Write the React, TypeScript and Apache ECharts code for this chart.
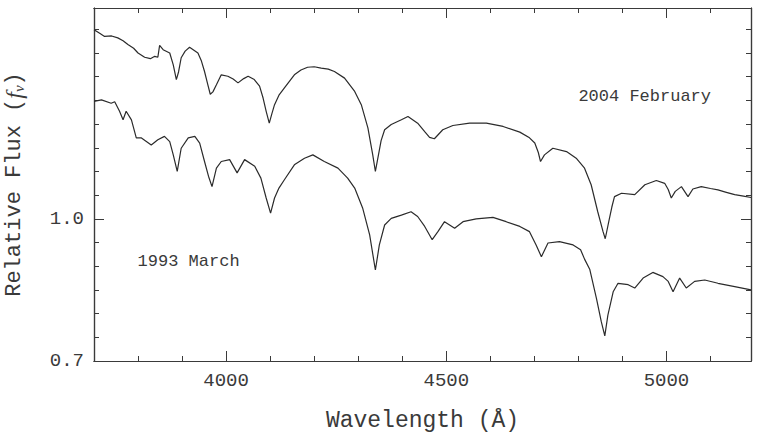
import React, { useEffect, useRef } from "react";
import * as echarts from "echarts";

// 2004 February spectrum (upper trace)
const wl2004 = [3700, 3712, 3724, 3740, 3754, 3766, 3777, 3790, 3800, 3815, 3828, 3838, 3845, 3849, 3857, 3872, 3880, 3887, 3892, 3898, 3907, 3917, 3936, 3944, 3951, 3958, 3964, 3970, 3978, 3989, 4004, 4016, 4027, 4040, 4050, 4064, 4076, 4084, 4091, 4098, 4104, 4110, 4120, 4132, 4155, 4170, 4185, 4200, 4216, 4232, 4246, 4269, 4292, 4307, 4322, 4333, 4339, 4346, 4352, 4360, 4375, 4398, 4413, 4435, 4451, 4462, 4473, 4482, 4492, 4515, 4553, 4591, 4629, 4667, 4689, 4701, 4709, 4714, 4723, 4742, 4773, 4795, 4814, 4829, 4844, 4856, 4861, 4869, 4876, 4882, 4898, 4928, 4951, 4977, 4996, 5004, 5011, 5020, 5034, 5049, 5060, 5079, 5100, 5117, 5136, 5155, 5175, 5192];
const flux2004 = [1.399, 1.392, 1.385, 1.386, 1.382, 1.376, 1.368, 1.36, 1.35, 1.341, 1.338, 1.343, 1.341, 1.366, 1.357, 1.35, 1.325, 1.294, 1.31, 1.34, 1.354, 1.362, 1.35, 1.333, 1.311, 1.285, 1.263, 1.268, 1.283, 1.304, 1.301, 1.295, 1.287, 1.296, 1.301, 1.294, 1.28, 1.255, 1.227, 1.202, 1.222, 1.241, 1.261, 1.276, 1.304, 1.314, 1.32, 1.321, 1.318, 1.316, 1.311, 1.297, 1.269, 1.241, 1.192, 1.135, 1.1, 1.135, 1.165, 1.188, 1.199, 1.209, 1.216, 1.202, 1.184, 1.172, 1.169, 1.178, 1.188, 1.197, 1.202, 1.202, 1.195, 1.183, 1.171, 1.16, 1.14, 1.121, 1.135, 1.149, 1.142, 1.128, 1.107, 1.072, 1.015, 0.973, 0.958, 0.994, 1.025, 1.047, 1.054, 1.051, 1.072, 1.081, 1.075, 1.062, 1.044, 1.058, 1.068, 1.047, 1.063, 1.068, 1.064, 1.061, 1.056, 1.051, 1.048, 1.045];

// 1993 March spectrum (lower trace)
const wl1993 = [3700, 3717, 3739, 3747, 3758, 3766, 3773, 3785, 3796, 3807, 3830, 3845, 3860, 3872, 3880, 3889, 3898, 3914, 3929, 3940, 3951, 3960, 3968, 3978, 3989, 4008, 4025, 4042, 4065, 4079, 4091, 4101, 4110, 4120, 4132, 4155, 4178, 4197, 4223, 4254, 4276, 4292, 4310, 4326, 4339, 4348, 4360, 4375, 4398, 4420, 4435, 4451, 4468, 4481, 4496, 4519, 4538, 4568, 4606, 4636, 4667, 4689, 4704, 4716, 4731, 4757, 4788, 4805, 4814, 4826, 4841, 4852, 4860, 4867, 4879, 4890, 4913, 4928, 4947, 4969, 4992, 5004, 5015, 5030, 5045, 5064, 5087, 5117, 5155, 5192];
const flux1993 = [1.248, 1.251, 1.244, 1.247, 1.227, 1.209, 1.227, 1.209, 1.171, 1.171, 1.156, 1.167, 1.174, 1.163, 1.135, 1.1, 1.149, 1.171, 1.174, 1.16, 1.121, 1.09, 1.068, 1.107, 1.121, 1.125, 1.097, 1.125, 1.111, 1.086, 1.044, 1.012, 1.044, 1.065, 1.082, 1.114, 1.128, 1.135, 1.121, 1.107, 1.086, 1.065, 1.023, 0.966, 0.892, 0.945, 0.987, 1.001, 1.008, 1.015, 1.005, 0.984, 0.956, 0.973, 0.994, 0.98, 0.994, 1.0, 1.003, 0.994, 0.984, 0.973, 0.945, 0.92, 0.949, 0.952, 0.945, 0.935, 0.915, 0.893, 0.832, 0.783, 0.753, 0.797, 0.846, 0.864, 0.861, 0.854, 0.875, 0.887, 0.878, 0.868, 0.846, 0.875, 0.854, 0.868, 0.871, 0.864, 0.857, 0.85];

const xMajorTicks = [4000, 4500, 5000];
const yMajorTicks = [0.7, 1.0];

const annotations = [
  { text: "2004 February", wl: 4800, flux: 1.259 },
  { text: "1993 March", wl: 3799, flux: 0.91 },
];

const X_MIN = 3700;
const X_MAX = 5192;
const Y_MIN = 0.7;
const Y_MAX = 1.445;

const FONT = "'Liberation Mono', 'DejaVu Sans Mono', monospace";
const INK = "#3a3a3a";
const FRAME = "#3a3a3a";

export default function App() {
  const ref = useRef<HTMLDivElement>(null);

  useEffect(() => {
    if (!ref.current) return;
    const chart = echarts.init(ref.current, undefined, { renderer: "svg" });

    const axisLine = { show: true, lineStyle: { color: FRAME, width: 1.2 } };
    const minorX = (pos: string) => ({
      type: "value",
      position: pos,
      min: X_MIN,
      max: X_MAX,
      interval: 100,
      axisLine,
      axisTick: { show: true, inside: true, length: 5, lineStyle: { color: FRAME, width: 1 } },
      axisLabel: { show: false },
      splitLine: { show: false },
    });
    const majorX = (pos: string, labels: boolean) => ({
      type: "value",
      position: pos,
      min: X_MIN,
      max: X_MAX,
      axisLine,
      axisTick: { show: true, inside: true, length: 10, customValues: xMajorTicks, lineStyle: { color: FRAME, width: 1 } },
      axisLabel: {
        show: labels,
        customValues: xMajorTicks,
        margin: 10,
        fontFamily: FONT,
        fontSize: 19,
        color: INK,
        formatter: (v: number) => String(Math.round(v)),
      },
      splitLine: { show: false },
      ...(labels
        ? {
            name: "Wavelength (Å)",
            nameLocation: "middle",
            nameGap: 48,
            nameTextStyle: { fontFamily: FONT, fontSize: 23, color: INK },
          }
        : {}),
    });
    const minorY = (pos: string) => ({
      type: "value",
      position: pos,
      min: Y_MIN,
      max: Y_MAX,
      interval: 0.05,
      axisLine,
      axisTick: { show: true, inside: true, length: 5, lineStyle: { color: FRAME, width: 1 } },
      axisLabel: { show: false },
      splitLine: { show: false },
    });
    const majorY = (pos: string, labels: boolean) => ({
      type: "value",
      position: pos,
      min: Y_MIN,
      max: Y_MAX,
      axisLine,
      axisTick: { show: true, inside: true, length: 10, customValues: yMajorTicks, lineStyle: { color: FRAME, width: 1 } },
      axisLabel: {
        show: labels,
        customValues: yMajorTicks,
        margin: 10,
        fontFamily: FONT,
        fontSize: 19,
        color: INK,
        formatter: (v: number) => v.toFixed(1),
      },
      splitLine: { show: false },
      ...(labels
        ? {
            name: "Relative Flux ({i|f}{s|ν})",
            nameLocation: "middle",
            nameGap: 68,
            nameTextStyle: {
              fontFamily: FONT,
              fontSize: 22,
              color: INK,
              rich: {
                i: { fontFamily: "'Liberation Serif', serif", fontStyle: "italic", fontSize: 24, color: INK },
                s: { fontFamily: "'Liberation Serif', serif", fontStyle: "italic", fontSize: 15, color: INK, verticalAlign: "bottom", padding: [8, 0, 0, 0] },
              },
            },
          }
        : {}),
    });

    const lineStyle = { color: "#2b2b2b", width: 1.2 };

    chart.setOption({
      animation: false,
      backgroundColor: "#ffffff",
      grid: { left: 94, top: 8, width: 657, height: 353, containLabel: false, outerBoundsMode: "none" },
      xAxis: [majorX("bottom", true), minorX("bottom"), minorX("top"), majorX("top", false)],
      yAxis: [majorY("left", true), minorY("left"), minorY("right"), majorY("right", false)],
      series: [
        {
          name: "2004 February",
          type: "line",
          xAxisIndex: 0,
          yAxisIndex: 0,
          showSymbol: false,
          symbol: "none",
          lineStyle,
          data: wl2004.map((w, i) => [w, flux2004[i]]),
        },
        {
          name: "1993 March",
          type: "line",
          xAxisIndex: 0,
          yAxisIndex: 0,
          showSymbol: false,
          symbol: "none",
          lineStyle,
          data: wl1993.map((w, i) => [w, flux1993[i]]),
        },
      ],
    });

    const graphic = annotations.map((a) => {
      const p = chart.convertToPixel({ gridIndex: 0 }, [a.wl, a.flux]) as number[];
      return {
        type: "text",
        x: p[0],
        y: p[1],
        style: {
          text: a.text,
          font: `17px ${FONT}`,
          fill: INK,
          textAlign: "left",
          textVerticalAlign: "middle",
          verticalAlign: "middle",
        },
      };
    });
    chart.setOption({ graphic });

    return () => chart.dispose();
  }, []);

  return (
    <div
      ref={ref}
      style={{ position: "fixed", left: 0, top: 0, width: 759, height: 438, background: "#fff" }}
    />
  );
}
